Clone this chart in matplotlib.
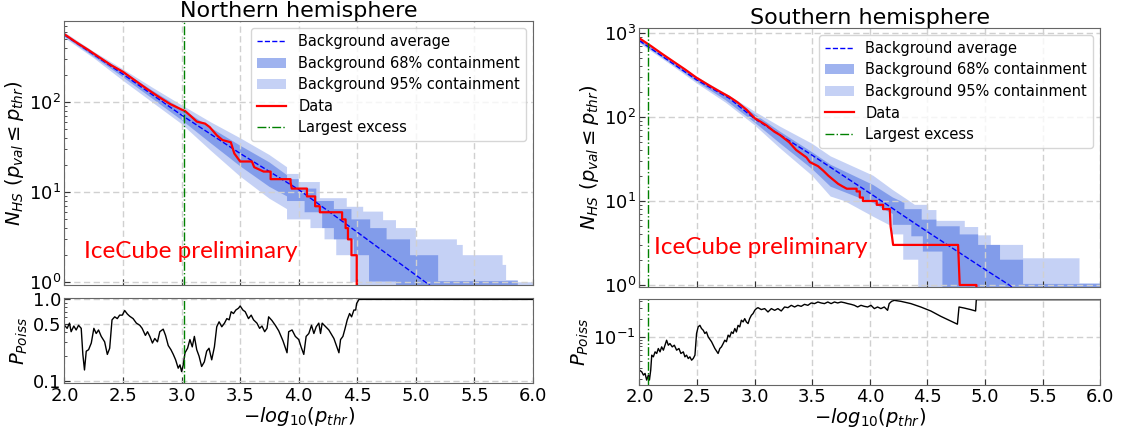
import numpy as np
import matplotlib
matplotlib.use("Agg")
import matplotlib.pyplot as plt
from matplotlib.ticker import FixedLocator, FormatStrFormatter, NullFormatter

# counts of zero sit below the log axis
ZERO = 0.1

# ---------------- Northern hemisphere ----------------
n_avg_x = [2.0, 2.5, 3.0, 3.5, 4.0, 4.5, 5.0, 5.5]
n_avg = [560, 205, 72, 27, 10.7, 3.6, 1.2, 0.4]

n_hi95_x = [2.0, 2.25, 2.5, 2.75, 3.0, 3.25, 3.5, 3.75, 3.9, 3.9, 4.0, 4.0, 4.18, 4.18, 4.41, 4.41,
            4.55, 4.55, 4.72, 4.72, 4.83, 4.83, 5.0, 5.0, 5.35, 5.35, 5.40, 5.40, 5.74, 5.74,
            5.77, 5.77, 5.87, 5.87, 6.0]
n_hi95 = [600, 365, 233, 146, 93, 60, 40, 26, 19, 16, 16, 13, 13, 8.6, 8.6, 6.9,
          6.9, 6.1, 6.1, 4.9, 4.9, 4.0, 4.0, 3.0, 3.0, 2.6, 2.6, 2.0, 2.0, 1.56,
          1.56, 1.06, 1.06, 1.0, 1.0]
n_lo95_x = [2.0, 2.25, 2.5, 2.75, 3.0, 3.25, 3.5, 3.75, 3.9, 3.9, 4.1, 4.1, 4.22,
            4.22, 4.32, 4.32, 4.44, 4.44, 4.5, 4.5, 6.0]
n_lo95 = [520, 310, 174, 100, 57.5, 29, 15, 8.5, 6.5, 5, 5, 4, 4,
          3, 3, 2, 2, 1, 1, ZERO, ZERO]
n_hi68_x = [2.0, 2.25, 2.5, 2.75, 3.0, 3.25, 3.5, 3.75, 3.9, 3.9, 4.0, 4.0, 4.15, 4.15, 4.3,
            4.3, 4.45, 4.45, 4.61, 4.61, 4.75, 4.75, 4.95, 4.95, 5.19, 5.19, 5.87, 5.87]
n_hi68 = [585, 352, 220, 135, 85, 52, 33, 21.5, 15.5, 14, 14, 11, 11, 8, 8,
          6.5, 6.5, 5, 5, 4, 4, 3, 3, 2, 2, 1.03, 1.03, ZERO]
n_lo68_x = [2.0, 2.25, 2.5, 2.75, 3.0, 3.25, 3.5, 3.75, 3.9, 3.9, 4.05, 4.05, 4.2, 4.2, 4.3,
            4.3, 4.47, 4.47, 4.6, 4.6, 4.83, 4.83]
n_lo68 = [540, 322, 190, 110, 63.5, 35, 19.5, 11.5, 9, 8, 8, 6, 6, 4, 4,
          3, 3, 2, 2, 1.02, 1.02, ZERO]

n_data_x = [2.0, 2.1, 2.2, 2.3, 2.4, 2.5, 2.6, 2.7, 2.8, 2.9, 3.0, 3.03, 3.08, 3.13, 3.2, 3.24,
            3.3, 3.35, 3.42, 3.45, 3.5, 3.6, 3.62, 3.7, 3.76, 3.76, 3.93, 3.93, 3.94, 4.07,
            4.07, 4.14, 4.14, 4.18, 4.18, 4.37, 4.37, 4.40, 4.40, 4.42, 4.42, 4.45, 4.45,
            4.495, 4.495]
n_data = [570, 465, 385, 315, 258, 218, 176, 142, 116, 96, 83, 80, 70, 61, 58, 53,
          43, 38, 36, 27, 22, 22, 19, 17, 17, 14, 14, 13, 11, 11,
          9, 9, 7, 7, 6, 6, 5, 5, 4, 4, 3, 3, 2,
          2, ZERO]

n_pois_x = [2.0, 2.023, 2.043, 2.057, 2.08, 2.1, 2.12, 2.143, 2.157, 2.171, 2.186, 2.206, 2.229,
            2.251, 2.271, 2.291, 2.314, 2.343, 2.366, 2.386, 2.406, 2.429, 2.451, 2.471, 2.494,
            2.514, 2.537, 2.557, 2.586, 2.614, 2.643, 2.663, 2.691, 2.709, 2.729, 2.751, 2.771,
            2.794, 2.814, 2.843, 2.863, 2.886, 2.909, 2.929, 2.949, 2.971, 2.986, 3.0, 3.014,
            3.029, 3.051, 3.071, 3.091, 3.109, 3.129, 3.149, 3.171, 3.194, 3.214, 3.234, 3.257,
            3.28, 3.3, 3.32, 3.343, 3.366, 3.386, 3.406, 3.423, 3.443, 3.463, 3.486, 3.5, 3.523,
            3.543, 3.571, 3.594, 3.614, 3.643, 3.666, 3.686, 3.709, 3.729, 3.743, 3.771, 3.8,
            3.829, 3.865, 3.9, 3.914, 3.943, 3.971, 4.0, 4.02, 4.043, 4.063, 4.086, 4.109, 4.129,
            4.149, 4.171, 4.186, 4.2, 4.257, 4.3, 4.343, 4.357, 4.377, 4.394, 4.414, 4.434,
            4.451, 4.471, 4.486, 4.494, 4.514, 6.0]
n_pois = [0.48, 0.44, 0.51, 0.40, 0.47, 0.42, 0.48, 0.44, 0.21, 0.135, 0.23, 0.24, 0.29,
          0.44, 0.38, 0.42, 0.35, 0.30, 0.21, 0.25, 0.56, 0.61, 0.58, 0.64, 0.64,
          0.73, 0.66, 0.62, 0.58, 0.51, 0.48, 0.44, 0.36, 0.40, 0.35, 0.29, 0.33,
          0.30, 0.40, 0.43, 0.36, 0.27, 0.24, 0.21, 0.18, 0.142, 0.156, 0.129, 0.156,
          0.22, 0.25, 0.32, 0.26, 0.35, 0.24, 0.20, 0.149, 0.17, 0.23, 0.25, 0.18,
          0.26, 0.46, 0.53, 0.46, 0.51, 0.58, 0.56, 0.705, 0.67, 0.74, 0.78, 0.83, 0.74,
          0.705, 0.58, 0.64, 0.56, 0.51, 0.44, 0.47, 0.40, 0.44, 0.61, 0.55, 0.48,
          0.41, 0.31, 0.22, 0.40, 0.42, 0.35, 0.32, 0.26, 0.21, 0.35, 0.38, 0.48, 0.38,
          0.46, 0.51, 0.38, 0.51, 0.42, 0.33, 0.22, 0.32, 0.35, 0.43, 0.56, 0.67,
          0.61, 0.74, 0.74, 0.89, 1.0, 1.0]
n_excess = 3.02

# ---------------- Southern hemisphere ----------------
s_avg_x = [2.0, 2.5, 2.78, 3.0, 3.5, 4.0, 4.35, 4.5, 5.0, 5.21, 5.5]
s_avg = [810, 275, 167, 95, 35, 12.4, 5.9, 4.3, 1.53, 1.0, 0.5]

s_hi95_x = [2.0, 2.25, 2.5, 2.75, 3.0, 3.22, 3.5, 3.66, 4.03, 4.2, 4.32, 4.39, 4.506, 4.506,
            4.578, 4.578, 4.824, 4.824, 4.94, 4.94, 5.05, 5.05, 5.33, 5.33, 5.82, 5.82, 6.0]
s_hi95 = [870, 500, 300, 190, 116, 77, 48, 34, 20, 13.5, 10.5, 9.0, 9.0, 7.8,
          7.8, 5.8, 5.8, 4.9, 4.9, 3.9, 3.9, 3.0, 3.0, 2.08, 2.08, 1.05, 1.05]
s_lo95_x = [2.0, 2.25, 2.5, 2.75, 3.0, 3.22, 3.5, 3.66, 3.78, 4.03, 4.19, 4.19, 4.29, 4.29,
            4.42, 4.42, 6.0]
s_lo95 = [755, 440, 250, 148, 80, 42.5, 20, 11.3, 10, 6.5, 5, 4, 4, 2,
          2, ZERO, ZERO]
s_hi68_x = [2.0, 2.25, 2.5, 2.75, 3.0, 3.22, 3.5, 3.66, 4.03, 4.2, 4.3, 4.3, 4.45, 4.45, 4.578,
            4.578, 4.78, 4.78, 4.94, 4.94, 5.13, 5.13, 5.33, 5.33, 6.0]
s_hi68 = [845, 488, 290, 182, 108, 67, 38, 27, 15.5, 11, 9.5, 8, 8, 6, 6,
          5, 5, 4, 4, 3, 3, 2, 2, 1.03, 1.03]
s_lo68_x = [2.0, 2.25, 2.5, 2.75, 3.0, 3.22, 3.5, 3.66, 3.9, 4.03, 4.12, 4.2, 4.2, 4.36, 4.36,
            4.46, 4.46, 4.63, 4.63, 6.0]
s_lo68 = [780, 458, 262, 158, 86, 48.6, 24, 14.8, 11, 9.5, 8, 7, 5.2, 5.2, 3.8,
          3.8, 2.5, 2.5, ZERO, ZERO]

s_data_x = [2.0, 2.1, 2.2, 2.3, 2.4, 2.49, 2.6, 2.7, 2.78, 2.85, 2.93, 3.0, 3.1, 3.17, 3.22,
            3.3, 3.36, 3.45, 3.48, 3.55, 3.595, 3.64, 3.68, 3.725, 3.76, 3.8, 3.885, 3.885,
            3.913, 3.913, 3.94, 3.94, 4.06, 4.06, 4.115, 4.115, 4.173, 4.18, 4.19, 4.202,
            4.766, 4.78, 4.925, 4.925]
s_data = [865, 700, 560, 452, 365, 297, 240, 200, 174, 150, 122, 97, 80, 67, 61,
          50, 40.5, 33, 29, 26, 23, 20, 18, 16, 15, 14, 14, 13,
          13, 11, 11, 10, 10, 9, 9, 8, 8, 5, 4, 3,
          3, 1, 1, ZERO]

s_pois_x = [2.0, 2.02, 2.035, 2.049, 2.063, 2.078, 2.087, 2.098, 2.107, 2.121, 2.136, 2.15,
            2.164, 2.179, 2.193, 2.208, 2.222, 2.236, 2.251, 2.265, 2.285, 2.303, 2.323,
            2.343, 2.36, 2.381, 2.395, 2.409, 2.424, 2.438, 2.453, 2.467, 2.482, 2.496, 2.51,
            2.525, 2.539, 2.554, 2.568, 2.582, 2.597, 2.626, 2.655, 2.683, 2.698, 2.712,
            2.727, 2.741, 2.755, 2.77, 2.784, 2.799, 2.813, 2.828, 2.842, 2.856, 2.871, 2.885,
            2.9, 2.914, 2.928, 2.943, 2.957, 2.972, 2.986, 3.001, 3.015, 3.029, 3.058, 3.087,
            3.116, 3.145, 3.174, 3.202, 3.231, 3.26, 3.289, 3.318, 3.347, 3.375, 3.404, 3.433,
            3.462, 3.491, 3.52, 3.549, 3.577, 3.606, 3.635, 3.664, 3.693, 3.721, 3.75, 3.779,
            3.808, 3.837, 3.866, 3.894, 3.923, 3.952, 3.981, 4.01, 4.039, 4.067, 4.096, 4.125,
            4.154, 4.168, 4.189, 4.212, 4.269, 4.356, 4.442, 4.529, 4.615, 4.687, 4.76, 4.774,
            4.817, 4.875, 4.918, 4.924, 6.0]
s_pois = [0.0278, 0.0261, 0.023, 0.0245, 0.019, 0.023, 0.019, 0.0278, 0.0495, 0.0464, 0.0562,
          0.0528, 0.0639, 0.0562, 0.0681, 0.06, 0.0726, 0.088, 0.0726, 0.0774, 0.0681, 0.0726,
          0.06, 0.0639, 0.0528, 0.0562, 0.0464, 0.0495, 0.0435, 0.0464, 0.0408, 0.0435, 0.0495,
          0.114, 0.147, 0.156, 0.138, 0.129, 0.114, 0.121, 0.1, 0.083, 0.0639, 0.0528, 0.0639,
          0.0681, 0.0774, 0.088, 0.083, 0.107, 0.1, 0.121, 0.114, 0.138, 0.121, 0.156, 0.147,
          0.19, 0.178, 0.202, 0.178, 0.167, 0.202, 0.23, 0.245, 0.278, 0.297, 0.308, 0.286,
          0.297, 0.261, 0.297, 0.278, 0.297, 0.271, 0.316, 0.308, 0.337, 0.316, 0.337, 0.324,
          0.35, 0.337, 0.369, 0.36, 0.383, 0.369, 0.36, 0.383, 0.36, 0.383, 0.369, 0.383,
          0.373, 0.36, 0.35, 0.337, 0.316, 0.337, 0.324, 0.316, 0.337, 0.297, 0.316, 0.297,
          0.316, 0.278, 0.36, 0.393, 0.408, 0.393, 0.36, 0.316, 0.271, 0.221, 0.19, 0.163,
          0.316, 0.304, 0.286, 0.271, 0.419, 0.419]
s_excess = 2.072

band_color = 'royalblue'
grid_style = dict(color='#d0d0d0', linestyle=(0, (4.5, 2.5)), linewidth=1)


def style_axes(ax):
    ax.grid(True, **grid_style)
    ax.tick_params(which='both', direction='in', labelsize=13, color='0.2', pad=2.5)
    ax.tick_params(which='major', length=4)
    ax.tick_params(which='minor', length=2)
    for s in ax.spines.values():
        s.set_color('0.4')
    ax.set_xlim(2.0, 6.0)
    ax.xaxis.set_major_locator(FixedLocator([2.0, 2.5, 3.0, 3.5, 4.0, 4.5, 5.0, 5.5, 6.0]))
    ax.xaxis.set_major_formatter(FormatStrFormatter('%.1f'))


def draw_top(ax, avg_x, avg, hi95_x, hi95, lo95_x, lo95, hi68_x, hi68, lo68_x, lo68,
             data_x, data, excess, ylim, title):
    light = ax.fill(np.r_[hi95_x, lo95_x[::-1]], np.r_[hi95, lo95[::-1]],
                    color=band_color, alpha=0.3, lw=0)[0]
    dark = ax.fill(np.r_[hi68_x, lo68_x[::-1]], np.r_[hi68, lo68[::-1]],
                   color=band_color, alpha=0.5, lw=0)[0]
    avg_line, = ax.plot(avg_x, avg, '--', color='blue', lw=1)
    data_line, = ax.plot(data_x, data, color='red', lw=1.6)
    exc = ax.axvline(excess, color='green', ls='-.', lw=1)
    ax.set_yscale('log')
    ax.set_ylim(*ylim)
    style_axes(ax)
    ax.tick_params(labelbottom=False)
    ax.set_ylabel(r'$N_{HS}\ (p_{val} \leq p_{thr})$', fontsize=14, labelpad=2)
    ax.set_title(title, fontsize=16, pad=2.5)
    ax.legend([avg_line, dark, light, data_line, exc],
              ['Background average', 'Background 68% containment',
               'Background 95% containment', 'Data', 'Largest excess'],
              loc='upper right', fontsize=10.5, labelspacing=0.45)


def draw_bottom(ax, pois_x, pois, excess):
    ax.plot(pois_x, pois, color='black', lw=1)
    ax.axvline(excess, color='green', ls='-.', lw=1)
    ax.set_yscale('log')
    style_axes(ax)
    ax.set_ylabel(r'$P_{Poiss}$', fontsize=14, labelpad=2)
    ax.set_xlabel(r'$-log_{10}(p_{thr})$', fontsize=14, labelpad=0)


fig = plt.figure(figsize=(11.21, 4.32), dpi=100)

ax1 = fig.add_axes([0.0575, 0.3403, 0.418, 0.611])
ax2 = fig.add_axes([0.0575, 0.1123, 0.418, 0.1986])
ax3 = fig.add_axes([0.5704, 0.3356, 0.4111, 0.6003])
ax4 = fig.add_axes([0.5704, 0.1088, 0.4111, 0.1984])

draw_top(ax1, n_avg_x, n_avg, n_hi95_x, n_hi95, n_lo95_x, n_lo95, n_hi68_x, n_hi68,
         n_lo68_x, n_lo68, n_data_x, n_data, n_excess, (0.933, 800), 'Northern hemisphere')
draw_bottom(ax2, n_pois_x, n_pois, n_excess)
ax2.set_ylim(0.092, 1.05)
ax2.yaxis.set_major_locator(FixedLocator([0.1, 0.5, 1.0]))
ax2.yaxis.set_major_formatter(FormatStrFormatter('%.1f'))
ax2.yaxis.set_minor_formatter(NullFormatter())

draw_top(ax3, s_avg_x, s_avg, s_hi95_x, s_hi95, s_lo95_x, s_lo95, s_hi68_x, s_hi68,
         s_lo68_x, s_lo68, s_data_x, s_data, s_excess, (0.946, 1156), 'Southern hemisphere')
draw_bottom(ax4, s_pois_x, s_pois, s_excess)
ax4.set_ylim(0.0157, 0.425)
ax4.yaxis.set_minor_formatter(NullFormatter())

fig.text(0.0749, 0.4028, 'IceCube preliminary', color='red', fontsize=17.5,
         family=['Lato', 'DejaVu Sans'], ha='left', va='baseline')
fig.text(0.583, 0.4113, 'IceCube preliminary', color='red', fontsize=17.5,
         family=['Lato', 'DejaVu Sans'], ha='left', va='baseline')

fig.savefig('out.png', dpi=100)
